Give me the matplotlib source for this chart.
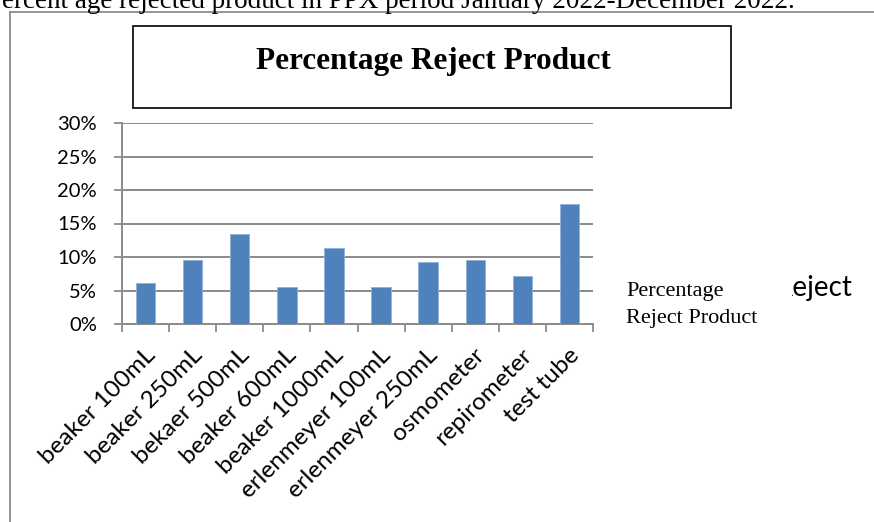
import matplotlib
matplotlib.use("Agg")
import matplotlib.pyplot as plt
import matplotlib.transforms as mtransforms
from matplotlib.patches import Rectangle
from matplotlib.lines import Line2D

# --- data ---
products = ["beaker 100mL", "beaker 250mL", "bekaer 500mL", "beaker 600mL",
            "beaker 1000mL", "erlenmeyer 100mL", "erlenmeyer 250mL",
            "osmometer", "repirometer", "test tube"]
reject_pct = [6.15, 9.6, 13.4, 5.45, 11.3, 5.45, 9.25, 9.5, 7.15, 17.85]
y_ticks = [0, 5, 10, 15, 20, 25, 30]

W, H = 874, 522
fig = plt.figure(figsize=(W / 100, H / 100), dpi=100)
fig.patch.set_facecolor("white")

sans = "Lato"
serif = "Liberation Serif"

# page caption, cut off at the top edge
fig.text(795 / W, 1 - 8 / H,
         "Percent age rejected product in PPX period January 2022-December 2022.",
         ha="right", va="baseline", fontsize=19.5, family=serif, color="black")

# outer chart frame (runs off the right and bottom edges)
fig.add_artist(Line2D([9.5 / W, 1.01], [1 - 12 / H, 1 - 12 / H],
                      transform=fig.transFigure, color="#8c8c8c", lw=1.3))
fig.add_artist(Line2D([9.5 / W, 9.5 / W], [1 - 12 / H, -0.01],
                      transform=fig.transFigure, color="#8c8c8c", lw=1.3))

# title box
fig.add_artist(Rectangle((133 / W, 1 - 108 / H), (731 - 133) / W, (108 - 26) / H,
                         transform=fig.transFigure, facecolor="white",
                         edgecolor="black", lw=1.2))
fig.text(433 / W, 1 - 69 / H, "Percentage Reject Product", ha="center",
         va="baseline", fontsize=22.5, fontweight="bold", family=serif)

# plot area
ax = fig.add_axes([122 / W, 1 - 324 / H, (593 - 122) / W, (324 - 123) / H])
x = list(range(len(products)))
ax.bar(x, reject_pct, width=0.41, color="#4F81BD", edgecolor="#8fb0d8",
       linewidth=0.6, zorder=3)
ax.set_xlim(-0.5, len(products) - 0.5)
ax.set_ylim(0, 30)
ax.set_yticks(y_ticks)
ax.set_yticklabels([f"{v}%" for v in y_ticks], family=sans, fontsize=14.5)
ax.yaxis.grid(True, color="#8a8a8a", lw=1.4, zorder=0)
ax.set_axisbelow(True)

ax.set_xticks([i - 0.5 for i in range(len(products) + 1)])
ax.set_xticklabels([])
ax.set_xticks(x, minor=True)
ax.set_xticklabels(products, minor=True, rotation=45, ha="right", va="center",
                   rotation_mode="anchor", family=sans, fontsize=17.5)
ax.tick_params(axis="x", which="minor", length=0, pad=20)
ax.tick_params(axis="x", which="major", length=6, width=1.3, color="#8a8a8a",
               direction="out")
ax.tick_params(axis="y", length=6, width=1.3, color="#8a8a8a", pad=12)
shift = mtransforms.ScaledTranslation(6 / 100, 0, fig.dpi_scale_trans)
for lbl in ax.get_xticklabels(minor=True):
    lbl.set_transform(lbl.get_transform() + shift)

for side in ["top", "right"]:
    ax.spines[side].set_visible(False)
for side in ["left", "bottom"]:
    ax.spines[side].set_color("#8a8a8a")
    ax.spines[side].set_linewidth(1.4)

# legend-like labels to the right
fig.text(626 / W, 1 - 296 / H, "Percentage", family=serif, fontsize=16,
         va="baseline")
fig.text(626 / W, 1 - 323 / H, "Reject Product", family=serif, fontsize=16,
         va="baseline")
rem = fig.text(776 / W, 1 - 296 / H, "Reject", family=sans, fontsize=20,
               va="baseline")
rem.set_clip_box(mtransforms.Bbox.from_extents(792, 0, W, H))
rem.set_clip_on(True)

fig.savefig("out.png", dpi=100)
